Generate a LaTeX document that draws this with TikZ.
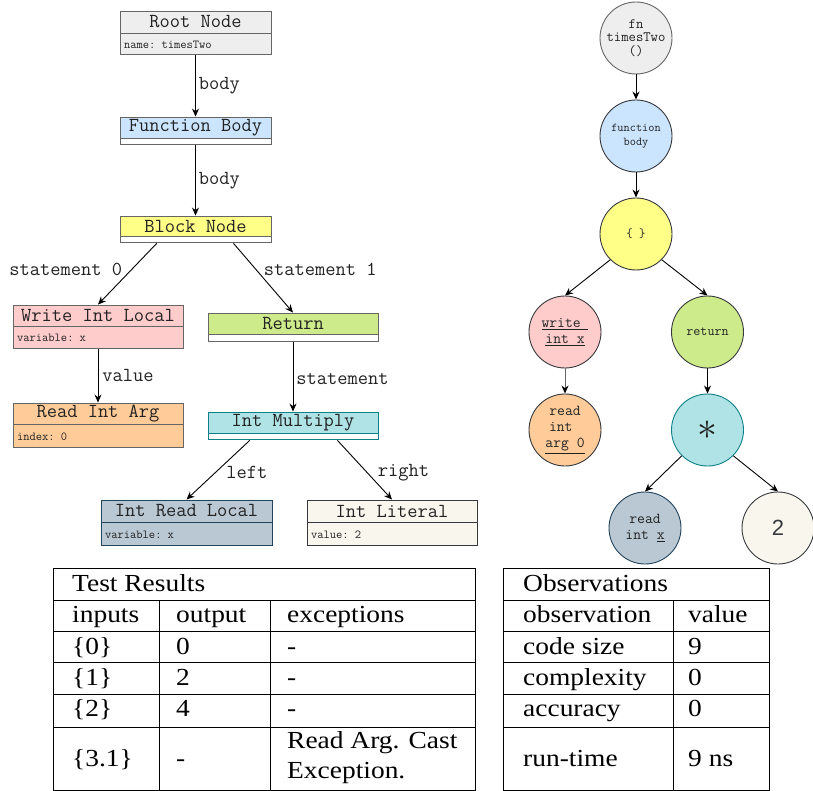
\documentclass[tikz,border=0pt]{standalone}
\usepackage{fontspec}
\usepackage{graphicx}
\setmainfont{Liberation Serif}
\newfontfamily\tabf[FakeStretch=1.12]{Liberation Serif}
\newfontfamily\sansf{Liberation Sans}
\newcommand\monof{\ttfamily}
\usetikzlibrary{arrows.meta,calc}

\definecolor{rootfill}{HTML}{EEEEEE}
\definecolor{bluefill}{HTML}{CCE5FF}
\definecolor{yellowfill}{HTML}{FFFF88}
\definecolor{pinkfill}{HTML}{FFCCCC}
\definecolor{orangefill}{HTML}{FFCC99}
\definecolor{greenfill}{HTML}{CDEB8B}
\definecolor{tealfill}{HTML}{B0E3E6}
\definecolor{tealline}{HTML}{0E8088}
\definecolor{slatefill}{HTML}{BAC8D3}
\definecolor{slateline}{HTML}{23445D}
\definecolor{creamfill}{HTML}{F9F7ED}
\definecolor{darkline}{HTML}{36393D}
\definecolor{greyline}{HTML}{666666}
\definecolor{inktext}{HTML}{222222}

\tikzset{
  hdr/.style={draw=greyline, line width=0.9pt, rectangle, inner sep=0pt,
    text=inktext, font=\monof\fontsize{19.9}{19.9}\selectfont},
  attr/.style={draw=greyline, line width=0.9pt, rectangle, anchor=north west,
    inner ysep=0pt, inner xsep=4pt, align=left, text=inktext,
    font=\monof\fontsize{12.2}{12.2}\selectfont},
  lbl/.style={inner sep=0pt, text=inktext, font=\monof\fontsize{19.9}{19.9}\selectfont},
  arr/.style={line width=0.9pt, -{Stealth[length=8pt,width=7pt]}},
  circ/.style={circle, draw=darkline, line width=0.9pt, minimum size=72pt,
    inner sep=0pt, align=center, text=inktext,
    font=\monof\fontsize{15.2}{16}\selectfont},
  tline/.style={line width=1pt, black},
  cell/.style={anchor=base west, inner sep=0pt, font=\tabf\fontsize{24.5}{30}\selectfont},
}

\begin{document}
\begin{tikzpicture}[x=1pt, y=-1pt]
\useasboundingbox (0,0) rectangle (813,791);

% ---------------- syntax tree (class boxes) ----------------
\node[hdr, fill=rootfill, minimum width=151pt, minimum height=22pt] (rooth) at (195.5,22) {Root Node};
\node[attr, fill=rootfill, minimum width=151pt, minimum height=21pt, text width=143pt] (rootb) at (rooth.south west) {name: timesTwo};

\node[hdr, fill=bluefill, minimum width=151pt, minimum height=21pt] (fbh) at (195.5,127.5) {Function Body};
\node[attr, fill=white, minimum width=151pt, minimum height=6pt, text width=143pt] (fbb) at (fbh.south west) {};

\node[hdr, fill=yellowfill, minimum width=151pt, minimum height=20pt] (blkh) at (195.5,226) {Block Node};
\node[attr, fill=white, minimum width=151pt, minimum height=6pt, text width=143pt] (blkb) at (blkh.south west) {};

\node[hdr, fill=pinkfill, minimum width=170pt, minimum height=21pt] (wrh) at (98,315.5) {Write Int Local};
\node[attr, fill=pinkfill, minimum width=170pt, minimum height=22pt, text width=162pt] (wrb) at (wrh.south west) {variable: x};

\node[hdr, fill=orangefill, minimum width=170pt, minimum height=21pt] (rah) at (98,413.5) {Read Int Arg};
\node[attr, fill=orangefill, minimum width=170pt, minimum height=23pt, text width=162pt] (rab) at (rah.south west) {index: 0};

\node[hdr, fill=greenfill, minimum width=170pt, minimum height=21pt] (reth) at (293,323.5) {Return};
\node[attr, fill=white, minimum width=170pt, minimum height=7pt, text width=162pt] (retb) at (reth.south west) {};

\node[hdr, draw=tealline, fill=tealfill, minimum width=170pt, minimum height=21pt] (mulh) at (293,422.5) {Int Multiply};
\node[attr, draw=tealline, fill=white, minimum width=170pt, minimum height=6pt, text width=162pt] (mulb) at (mulh.south west) {};

\node[hdr, draw=slateline, fill=slatefill, minimum width=171pt, minimum height=22pt] (rlh) at (186.5,511) {Int Read Local};
\node[attr, draw=slateline, fill=slatefill, minimum width=171pt, minimum height=23pt, text width=163pt] (rlb) at (rlh.south west) {variable: x};

\node[hdr, draw=darkline, fill=creamfill, minimum width=170pt, minimum height=22pt] (lith) at (392,511) {Int Literal};
\node[attr, draw=darkline, fill=creamfill, minimum width=170pt, minimum height=23pt, text width=162pt] (litb) at (lith.south west) {value: 2};

\draw[arr] (rootb.south) -- node[lbl, anchor=west, xshift=3pt] {body} (fbh.north);
\draw[arr] (fbb.south) -- node[lbl, anchor=west, xshift=3pt] {body} (blkh.north);
\draw[arr] ($(blkb.south west)!0.245!(blkb.south east)$) -- node[lbl, pos=0.43, anchor=east, xshift=-9pt] {statement 0} (wrh.north);
\draw[arr] ($(blkb.south west)!0.75!(blkb.south east)$) -- node[lbl, pos=0.37, anchor=west, xshift=8pt] {statement 1} (reth.north);
\draw[arr] (wrb.south) -- node[lbl, anchor=west, xshift=4pt] {value} (rah.north);
\draw[arr] (retb.south) -- node[lbl, anchor=west, xshift=3pt, yshift=-2pt] {statement} (mulh.north);
\draw[arr] ($(mulb.south west)!0.247!(mulb.south east)$) -- node[lbl, pos=0.55, anchor=west, xshift=11pt] {left} (rlh.north);
\draw[arr] ($(mulb.south west)!0.76!(mulb.south east)$) -- node[lbl, pos=0.55, anchor=west, xshift=10pt] {right} (lith.north);

% ---------------- expression tree (circles) ----------------
\node[circ, draw=greyline, fill=rootfill, font=\monof\fontsize{14.3}{13.5}\selectfont] (cfn) at (636,38) {fn\\timesTwo\\()};
\node[circ, fill=bluefill, font=\monof\fontsize{12}{14}\selectfont] (cfb) at (636,136) {function\\body};
\node[circ, fill=yellowfill, font=\monof\fontsize{12.5}{12.5}\selectfont] (cblk) at (636,234) {\{ \}};
\node[circ, fill=pinkfill] (cwr) at (565,332) {\underline{write\ }\\\underline{int x}};
\node[circ, fill=greenfill, font=\monof\fontsize{13.7}{14}\selectfont] (cret) at (707.5,332) {return};
\node[circ, fill=orangefill] (cra) at (565,430) {read\\\makebox[32pt][l]{int}\\\underline{arg 0}};
\node[circ, draw=tealline, fill=tealfill] (cmul) at (707.5,430) {\raisebox{-4pt}{\scalebox{1.6}{\fontsize{24}{24}\selectfont$\ast$}}};
\node[circ, draw=slateline, fill=slatefill] (crx) at (645,528) {read\\int \underline{x}};
\node[circ, fill=creamfill, font=\sansf\fontsize{22}{22}\selectfont, text=darkline] (ctwo) at (778,528) {2};

\draw[arr] (cfn) -- (cfb);
\draw[arr] (cfb) -- (cblk);
\draw[arr] (cblk.south west) -- (cwr.north);
\draw[arr] (cblk.south east) -- (cret.north);
\draw[arr, greyline, -{Stealth[length=8pt,width=7pt,color=black]}] (cwr) -- (cra);
\draw[arr] (cret) -- (cmul);
\draw[arr] (cmul.south west) -- (crx.north);
\draw[arr] (cmul.south east) -- (ctwo.north);

% ---------------- test results table ----------------
\draw[tline] (53,568) rectangle (475,790);
\foreach \yy in {600,631,662,694,727} \draw[tline] (53,\yy) -- (475,\yy);
\draw[tline] (159,600) -- (159,790);
\draw[tline] (270,600) -- (270,790);

\node[cell] (trt) at (72,591) {Test Results};
\node[cell] (tin) at (72,622) {inputs};
\node[cell] (tout) at (176,622) {output};
\node[cell] (texc) at (287,622) {exceptions};
\node[cell] (ti0) at (72,654) {\{0\}};
\node[cell] (to0) at (176,654) {0};
\node[cell] (te0) at (287,654) {-};
\node[cell] (ti1) at (72,685) {\{1\}};
\node[cell] (to1) at (176,685) {2};
\node[cell] (te1) at (287,685) {-};
\node[cell] (ti2) at (72,716) {\{2\}};
\node[cell] (to2) at (176,716) {4};
\node[cell] (te2) at (287,716) {-};
\node[cell] (ti3) at (72,766) {\{3.1\}};
\node[cell] (to3) at (176,766) {-};
\node[cell] (te3a) at (287,748) {Read Arg. Cast};
\node[cell] (te3b) at (287,778) {Exception.};

% ---------------- observations table ----------------
\draw[tline] (503,568) rectangle (769,790);
\foreach \yy in {600,631,662,694,727} \draw[tline] (503,\yy) -- (769,\yy);
\draw[tline] (673,600) -- (673,790);

\node[cell] (obt) at (523,591) {Observations};
\node[cell] (obh1) at (523,622) {observation};
\node[cell] (obh2) at (688,622) {value};
\node[cell] (obk1) at (523,654) {code size};
\node[cell] (obv1) at (688,654) {9};
\node[cell] (obk2) at (523,685) {complexity};
\node[cell] (obv2) at (688,685) {0};
\node[cell] (obk3) at (523,716) {accuracy};
\node[cell] (obv3) at (688,716) {0};
\node[cell] (obk4) at (523,766) {run-time};
\node[cell] (obv4) at (688,766) {9 ns};
\end{tikzpicture}
\end{document}
